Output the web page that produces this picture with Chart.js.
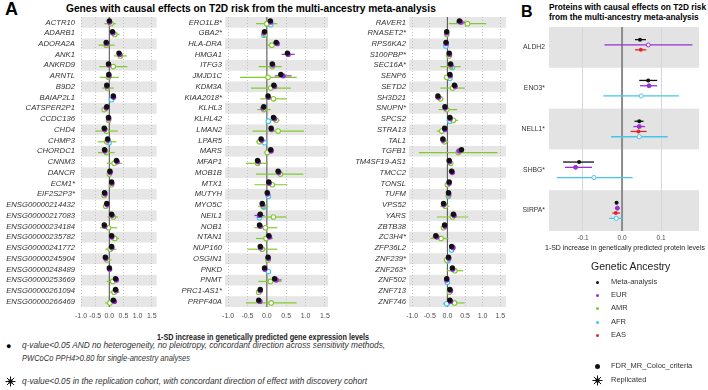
<!DOCTYPE html>
<html>
<head>
<meta charset="utf-8">
<script src="https://cdn.jsdelivr.net/npm/chart.js@4.4.1/dist/chart.umd.min.js"></script>
<style>
  body { margin: 0; background: #fff; font-family: 'Liberation Sans', Arial, sans-serif; }
  #wrap { position: relative; width: 708px; height: 390px; overflow: hidden; }
  canvas { position: absolute; }
  .t { position: absolute; white-space: nowrap; color: #000; transform-origin: 0 0; }
  .foot { font-style: italic; font-size: 9.6px; color: #333; }
  .leg { font-size: 7.5px; color: #333; }
  .dot { position: absolute; width: 3px; height: 3px; border-radius: 50%; }
</style>
</head>
<body>
<div id="wrap">
  <div class="t" style="left:5px;top:-1px;font-weight:bold;font-size:18px">A</div>
  <div class="t fit" data-w="370" style="left:66px;top:2px;font-weight:bold;font-size:10.5px">Genes with causal effects on T2D risk from the multi-ancestry meta-analysis</div>
  <div class="t" style="left:521px;top:3px;font-weight:bold;font-size:16px">B</div>
  <div class="t fit" data-w="157" style="left:549px;top:2px;font-weight:bold;font-size:8.6px;line-height:10px">Proteins with causal effects on T2D risk<br>from the multi-ancestry meta-analysis</div>

  <canvas id="cLeft" width="162" height="325" style="left:0;top:0"></canvas>
  <canvas id="cMid" width="185" height="325" style="left:150px;top:0"></canvas>
  <canvas id="cRight" width="181" height="325" style="left:330px;top:0"></canvas>
  <canvas id="cProt" width="208" height="246" style="left:500px;top:0"></canvas>

  <div class="t fit" data-w="160" style="left:545px;top:243px;font-size:7.4px;color:#222">1-SD increase in genetically predicted protein levels</div>

  <div class="t" style="left:591px;top:260px;font-size:10.5px;color:#222">Genetic Ancestry</div>
  <div id="legend"></div>

  <div class="t fit" data-w="212" style="left:157px;top:332px;font-weight:bold;font-size:9px;color:#222">1-SD increase in genetically predicted gene expression levels</div>
  <div class="t" style="left:6px;top:341px;font-size:9px">&#9679;</div>
  <div class="t foot fit" data-w="363" style="left:22px;top:339px">q-value&lt;0.05 AND no heterogeneity, no pleiotropy, concordant direction across sensitivity methods,</div>
  <div class="t foot fit" data-w="168" style="left:22px;top:352px">PWCoCo PPH4&gt;0.80 for single-ancestry analyses</div>
  <svg class="t" style="left:5px;top:376px" width="11" height="11" viewBox="-5.5 -5.5 11 11">
    <circle r="2.2" fill="#111"/>
    <g stroke="#111" stroke-width="1"><line x1="-5" y1="0" x2="5" y2="0"/><line x1="0" y1="-5" x2="0" y2="5"/><line x1="-3.6" y1="-3.6" x2="3.6" y2="3.6"/><line x1="-3.6" y1="3.6" x2="3.6" y2="-3.6"/></g>
  </svg>
  <div class="t foot fit" data-w="345" style="left:22px;top:375px">q-value&lt;0.05 in the replication cohort, with concordant direction of effect with discovery cohort</div>
</div>

<script>
// ---- panel A, left column ----
const genesLeft = ['ACTR10', 'ADARB1', 'ADORA2A', 'ANK1', 'ANKRD9', 'ARNTL', 'B9D2', 'BAIAP2L1', 'CATSPER2P1',
    'CCDC136', 'CHD4', 'CHMP3', 'CHORDC1', 'CNNM3', 'DANCR', 'ECM1*', 'EIF2S2P3*', 'ENSG00000214432',
    'ENSG00000217083', 'ENSG00000234184', 'ENSG00000235782', 'ENSG00000241772', 'ENSG00000245904',
    'ENSG00000248489', 'ENSG00000253669', 'ENSG00000261094', 'ENSG00000266469'];
const metaLeft = [0.0, 0.11, -0.11, 0.34, -0.03, -0.02, -0.09, 0.14, -0.09, -0.03, -0.18, -0.06, -0.17, 0.25,
    0.02, 0.08, -0.17, -0.09, 0.08, -0.18, 0.08, 0.08, -0.14, 0.0, 0.22, 0.22, 0.14];
const eurLeft = [0.01, 0.13, -0.10, 0.37, -0.02, -0.01, -0.08, 0.15, -0.11, -0.02, -0.16, -0.05, -0.15, 0.28,
    0.03, 0.09, -0.15, -0.08, 0.10, -0.16, 0.09, 0.09, -0.12, 0.01, 0.25, 0.24, 0.18];
const amrLeft = [[0.06, -0.18, 0.23], [0.19, 0.02, 0.36], [-0.11, -0.38, 0.19], [0.39, 0.17, 0.62], [0.14, -0.36, 0.64],
    [-0.03, -0.34, 0.34], [-0.07, -0.26, 0.16], null, [-0.18, -0.26, -0.07], [-0.03, -0.11, 0.05], [-0.10, -0.49, 0.30],
    [-0.09, -0.41, 0.25], [-0.10, -0.40, 0.19], [0.17, -0.09, 0.45], [0.0, -0.05, 0.05], [0.08, 0.03, 0.12],
    [-0.18, -0.23, -0.13], [-0.13, -0.20, -0.05], [0.14, -0.07, 0.31], [-0.03, -0.32, 0.27], [0.19, 0.05, 0.34],
    [0.03, -0.14, 0.25], [-0.08, -0.18, 0.08], null, [0.12, -0.09, 0.30], [0.17, 0.02, 0.36], [0.02, -0.15, 0.19]];
const afrLeft = [null, null, null, null, null, null, null, [0.08, 0.03, 0.14], null, null, null, [-0.01, -0.05, 0.03],
    null, null, null, null, null, null, null, null, null, null, null, null, null, null, null];

// ---- panel A, middle column ----
const genesMid = ['ERO1LB*', 'GBA2*', 'HLA-DRA', 'HMGA1', 'ITFG3', 'JMJD1C', 'KDM3A', 'KIAA2018*', 'KLHL3', 'KLHL42',
    'LMAN2', 'LPAR5', 'MARS', 'MFAP1', 'MOB1B', 'MTX1', 'MUTYH', 'MYO5C', 'NEIL1', 'NOB1', 'NTAN1', 'NUP160',
    'OSGIN1', 'PNKD', 'PNMT', 'PRC1-AS1*', 'PRPF40A'];
const metaMid = [0.09, -0.06, 0.24, 0.53, 0.14, 0.36, 0.18, 0.03, -0.08, 0.17, 0.11, -0.15, 0.10, -0.24, 0.29, 0.05,
    0.01, -0.12, -0.17, -0.19, 0.05, -0.17, 0.03, -0.06, 0.20, -0.17, -0.21];
const eurMid = [[0.10], [-0.07], [0.27], [0.55, 0.38, 0.72], [0.15], [0.42, 0.20, 0.64], [0.20], [0.04], [-0.10], [0.20],
    [0.12], [-0.13], [0.11], [-0.22], [0.31], [0.06], [0.02], [-0.11], [-0.19, -0.32, -0.06], [-0.17], [0.07],
    [-0.16], [0.04], [-0.05], [0.24, 0.11, 0.38], [-0.17], [-0.18]];
const amrMid = [[0.0, -0.28, 0.27], [-0.04, -0.08, 0.0], [0.13, 0.0, 0.29], null, [0.14, -0.21, 0.38], [0.03, -0.69, 0.77],
    [0.10, -0.41, 0.62], [0.17, -0.17, 0.52], [-0.08, -0.25, 0.10], [0.24, 0.07, 0.33], [0.29, -0.37, 0.96],
    [-0.19, -0.28, -0.08], [0.01, -0.06, 0.07], [-0.24, -0.54, 0.03], [0.35, -0.28, 0.94], [0.14, -0.32, 0.53], null,
    [-0.10, -0.23, 0.04], [0.17, -0.24, 0.51], [-0.04, -0.32, 0.27], [-0.02, -0.28, 0.16], [-0.12, -0.50, 0.27],
    [0.03, -0.02, 0.08], null, [0.09, -0.22, 0.38], [-0.21, -0.28, -0.15], [0.11, -0.54, 0.77]];
const afrMid = [[0.10, 0.05, 0.16], [-0.08, -0.11, -0.05], null, null, null, null, null, null, null, [0.04, -0.02, 0.10],
    null, [-0.06, -0.10, -0.02], null, null, null, null, [0.04, 0.0, 0.08], [-0.08, -0.13, -0.03], [-0.19, -0.25, -0.13],
    null, null, null, null, [0.04, 0.0, 0.08], null, null, null];

// ---- panel A, right column ----
const genesRight = ['RAVER1', 'RNASET2*', 'RPS6KA2', 'S100PBP*', 'SEC16A*', 'SENP6', 'SETD2', 'SH3D21', 'SNUPN*',
    'SPCS2', 'STRA13', 'TAL1', 'TGFB1', 'TM4SF19-AS1', 'TMCC2', 'TONSL', 'TUFM', 'VPS52', 'YARS', 'ZBTB38', 'ZC3H4*',
    'ZFP36L2', 'ZNF239*', 'ZNF263*', 'ZNF502', 'ZNF713', 'ZNF746'];
const metaRight = [0.34, -0.02, -0.04, 0.05, 0.09, 0.07, 0.20, -0.27, -0.07, 0.07, -0.08, -0.13, 0.40, 0.05, 0.12,
    0.05, 0.03, -0.11, 0.17, -0.08, -0.33, 0.12, 0.03, 0.14, -0.02, 0.07, 0.07];
const eurRight = [[0.38, 0.25, 0.50], [-0.02], [-0.03], [0.06], [0.10], [0.08], [0.22], [-0.25, -0.35, -0.15], [-0.06],
    [0.08], [-0.07], [-0.12], [0.33], [0.06], [0.14], [0.05], [0.04], [-0.10], [0.19], [-0.07], [-0.30, -0.42, -0.20],
    [0.16], [0.04], [0.15], [-0.02], [0.09], [0.09]];
const amrRight = [[0.57, 0.04, 1.10], [-0.02, -0.05, 0.01], null, [0.05, -0.05, 0.14], [0.10, -0.20, 0.38],
    [-0.02, -0.08, 0.14], [0.15, -0.20, 0.49], [-0.20, -0.34, -0.11], [-0.02, -0.25, 0.28], [0.17, -0.02, 0.30],
    [-0.16, -0.30, -0.07], [-0.08, -0.18, 0.03], [0.31, -0.81, 1.42], [0.09, 0.0, 0.17], null, [0.0, -0.04, 0.04],
    [0.03, -0.01, 0.07], [-0.06, -0.20, 0.05], [0.14, -0.30, 0.59], [-0.11, -0.16, -0.02], [-0.18, -0.48, 0.03], null,
    [-0.02, -0.07, 0.03], [0.21, -0.02, 0.45], null, [0.06, 0.02, 0.10], [0.20, -0.11, 0.49]];
const afrRight = [null, null, [-0.04, -0.07, -0.01], null, [0.14, 0.09, 0.19], [0.07, 0.02, 0.12], null, null, null,
    [0.07, 0.03, 0.11], null, null, null, null, null, null, [0.03, -0.01, 0.07], null, null, null, null,
    [0.12, 0.07, 0.17], [0.01, -0.03, 0.05], null, [0.0, -0.04, 0.04], null, [-0.02, -0.12, 0.08]];

const xTicksGene = [-1.0, -0.5, 0.0, 0.5, 1.0, 1.5];

// ---- panel B ----
const proteins = ['ALDH2', 'ENO3*', 'NELL1*', 'SHBG*', 'SIRPA*'];
const metaProt = [[0.046, 0.033, 0.061], [0.067, 0.044, 0.090], [0.044, 0.032, 0.055], [-0.110, -0.151, -0.072], [-0.014, -0.017, -0.011]];
const eurProt = [[0.067, -0.045, 0.180], [0.069, 0.046, 0.090], [0.044, 0.029, 0.059], [-0.119, -0.146, -0.077], [-0.012, -0.015, -0.009]];
const easProt = [[0.048, 0.033, 0.062], null, [0.042, 0.022, 0.063], null, [-0.016, -0.025, -0.005]];
const afrProt = [null, [0.049, -0.048, 0.146], [0.044, -0.028, 0.117], [-0.072, -0.167, 0.027], [-0.015, -0.033, 0.003]];
const xTicksProt = [-0.1, 0.0, 0.1];

const ancestry = ['Meta-analysis', 'EUR', 'AMR', 'AFR', 'EAS'];
const colours = { 'Meta-analysis': '#111111', EUR: '#9a2fd6', AMR: '#83c92e', AFR: '#43c6ee', EAS: '#e3262b' };

// grey bands, zero line and error bars, all placed with the chart scales
const forestPlugin = {
    id: 'forest',
    beforeDraw(chart) {
        const { ctx, chartArea: a, scales: { y } } = chart;
        const o = chart.options.plugins.forest;
        ctx.save();
        ctx.fillStyle = o.band;
        for (let i = 0; i < o.rows; i += 2) {
            const y1 = y.getPixelForValue(i - 0.5), y2 = y.getPixelForValue(i + 0.5);
            ctx.fillRect(a.left, Math.min(y1, y2), a.right - a.left, Math.abs(y2 - y1));
        }
        ctx.restore();
    },
    beforeDatasetsDraw(chart) {
        const { ctx, chartArea: a, scales: { x, y } } = chart;
        const o = chart.options.plugins.forest;
        ctx.save();
        const zx = x.getPixelForValue(0);
        ctx.strokeStyle = o.zeroColor;
        ctx.lineWidth = o.zeroWidth;
        ctx.beginPath();
        ctx.moveTo(zx, a.top);
        ctx.lineTo(zx, a.bottom);
        ctx.stroke();
        chart.data.datasets.forEach(ds => {
            ctx.strokeStyle = ds.pointBorderColor;
            ctx.lineWidth = o.barWidth;
            ds.data.forEach(p => {
                if (p.lo == null) return;
                const py = y.getPixelForValue(p.y);
                ctx.beginPath();
                ctx.moveTo(x.getPixelForValue(p.lo), py);
                ctx.lineTo(x.getPixelForValue(p.hi), py);
                ctx.stroke();
            });
        });
        ctx.restore();
    }
};

function toPoints(values, offset) {
    const pts = [];
    values.forEach((v, i) => {
        if (v == null) return;
        const t = typeof v === 'number' ? [v] : v;
        pts.push({ x: t[0], y: i + offset, lo: t[1], hi: t[2] });
    });
    return pts;
}

function forestChart(id, labels, series, o) {
    const datasets = series.map(s => ({
        label: s.name,
        data: toPoints(s.values, s.offset),
        pointRadius: s.radius,
        pointBorderWidth: s.open ? o.openBorder : 0,
        pointBorderColor: colours[s.name],
        pointBackgroundColor: s.fill || (s.open ? '#ffffff' : colours[s.name])
    }));
    return new Chart(document.getElementById(id), {
        type: 'scatter',
        data: { datasets },
        plugins: [forestPlugin],
        options: {
            responsive: false,
            animation: false,
            events: [],
            layout: { padding: { top: o.top, right: o.right, left: 0, bottom: 0 } },
            scales: {
                x: {
                    type: 'linear', min: o.xMin, max: o.xMax,
                    afterBuildTicks: s => { s.ticks = o.xTicks.map(v => ({ value: v })); },
                    afterFit: s => { s.height = o.xHeight; },
                    grid: {
                        drawTicks: false, lineWidth: o.gridWidth,
                        color: c => (c.tick && Math.abs(c.tick.value) < 1e-9) ? 'rgba(0,0,0,0)' : o.gridColor
                    },
                    border: { display: false, dash: o.gridDash },
                    ticks: { padding: o.xPad, color: '#4d4d4d', maxRotation: 0, font: { family: 'Liberation Sans', size: o.xFont },
                        callback: v => v.toFixed(1) }
                },
                y: {
                    type: 'linear', reverse: true, min: -0.5, max: labels.length - 0.5,
                    afterBuildTicks: s => { s.ticks = labels.map((g, i) => ({ value: i })); },
                    afterFit: s => { s.width = o.yWidth; },
                    grid: { display: false, drawTicks: false },
                    border: { display: false },
                    ticks: { autoSkip: false, padding: o.yPad, color: '#333333',
                        font: { family: 'Liberation Sans', size: o.yFont, style: o.italic ? 'italic' : 'normal' },
                        callback: v => labels[v] }
                }
            },
            plugins: {
                legend: { display: false },
                tooltip: { enabled: false },
                forest: { rows: labels.length, band: o.band, zeroColor: o.zeroColor, zeroWidth: o.zeroWidth, barWidth: o.barWidth }
            }
        }
    });
}

const geneOpts = { top: 17, xHeight: 18, xPad: 5, xFont: 7, yFont: 7.7, yPad: 6, italic: true, gridColor: '#b8b8b8',
    gridWidth: 0.8, gridDash: [1, 2], band: '#e6e6e6', zeroColor: '#5a5a5a', zeroWidth: 1.1, barWidth: 1.2,
    openBorder: 1.1, xTicks: xTicksGene };

function geneSeries(meta, eur, amr, afr) {
    return [
        { name: 'Meta-analysis', values: meta, offset: -0.14, radius: 2.7 },
        { name: 'EUR', values: eur, offset: -0.02, radius: 2.7 },
        { name: 'AMR', values: amr, offset: 0.12, radius: 2.3, open: true },
        { name: 'AFR', values: afr, offset: 0.2, radius: 2.3, open: true }
    ];
}

forestChart('cLeft', genesLeft, geneSeries(metaLeft, eurLeft, amrLeft, afrLeft),
    Object.assign({}, geneOpts, { right: 4, yWidth: 81, xMin: -1.0, xMax: 1.67 }));
forestChart('cMid', genesMid, geneSeries(metaMid, eurMid, amrMid, afrMid),
    Object.assign({}, geneOpts, { right: 3, yWidth: 75, yPad: 3, xMin: -1.08, xMax: 1.58 }));
forestChart('cRight', genesRight, geneSeries(metaRight, eurRight, amrRight, afrRight),
    Object.assign({}, geneOpts, { right: 3, yWidth: 79, yPad: 3, xMin: -1.09, xMax: 1.66 }));

forestChart('cProt', proteins, [
    { name: 'Meta-analysis', values: metaProt, offset: -0.19, radius: 2 },
    { name: 'EUR', values: eurProt, offset: -0.06, radius: 2, fill: ['#ffffff', '#9a2fd6', '#9a2fd6', '#9a2fd6', '#9a2fd6'], open: true },
    { name: 'EAS', values: easProt, offset: 0.06, radius: 2 },
    { name: 'AFR', values: afrProt, offset: 0.19, radius: 2.1, open: true }
], { top: 27, right: 9, xHeight: 15, xPad: 3, xFont: 6.5, yFont: 6.8, yPad: 4, italic: false, yWidth: 49,
    xMin: -0.187, xMax: 0.197, xTicks: xTicksProt, gridColor: '#d6d6d6', gridWidth: 1, gridDash: [],
    band: '#e3e3e3', zeroColor: '#8c8c8c', zeroWidth: 2, barWidth: 1.3, openBorder: 1 });

// legend for ancestry and marker types
const legend = document.getElementById('legend');
ancestry.forEach((a, i) => {
    const top = 281 + i * 13.2;
    legend.insertAdjacentHTML('beforeend',
        `<div class="dot" style="left:596px;top:${top}px;background:${colours[a]}"></div>` +
        `<div class="t leg" style="left:611px;top:${top - 4}px">${a}</div>`);
});
legend.insertAdjacentHTML('beforeend',
    `<div class="dot" style="left:595px;top:364px;width:5px;height:5px;background:#111"></div>` +
    `<div class="t leg" style="left:611px;top:361px">FDR_MR_Coloc_criteria</div>` +
    `<svg class="t" style="left:592px;top:375px" width="11" height="11" viewBox="-5.5 -5.5 11 11"><circle r="2.2" fill="#111"/>` +
    `<g stroke="#111" stroke-width="1"><line x1="-5" y1="0" x2="5" y2="0"/><line x1="0" y1="-5" x2="0" y2="5"/>` +
    `<line x1="-3.6" y1="-3.6" x2="3.6" y2="3.6"/><line x1="-3.6" y1="3.6" x2="3.6" y2="-3.6"/></g></svg>` +
    `<div class="t leg" style="left:611px;top:375px">Replicated</div>`);

// squeeze text lines to the widths seen in the figure
document.querySelectorAll('.fit').forEach(el => {
    const w = el.getBoundingClientRect().width;
    el.style.transform = `scaleX(${(+el.dataset.w / w).toFixed(3)})`;
});
</script>
</body>
</html>
